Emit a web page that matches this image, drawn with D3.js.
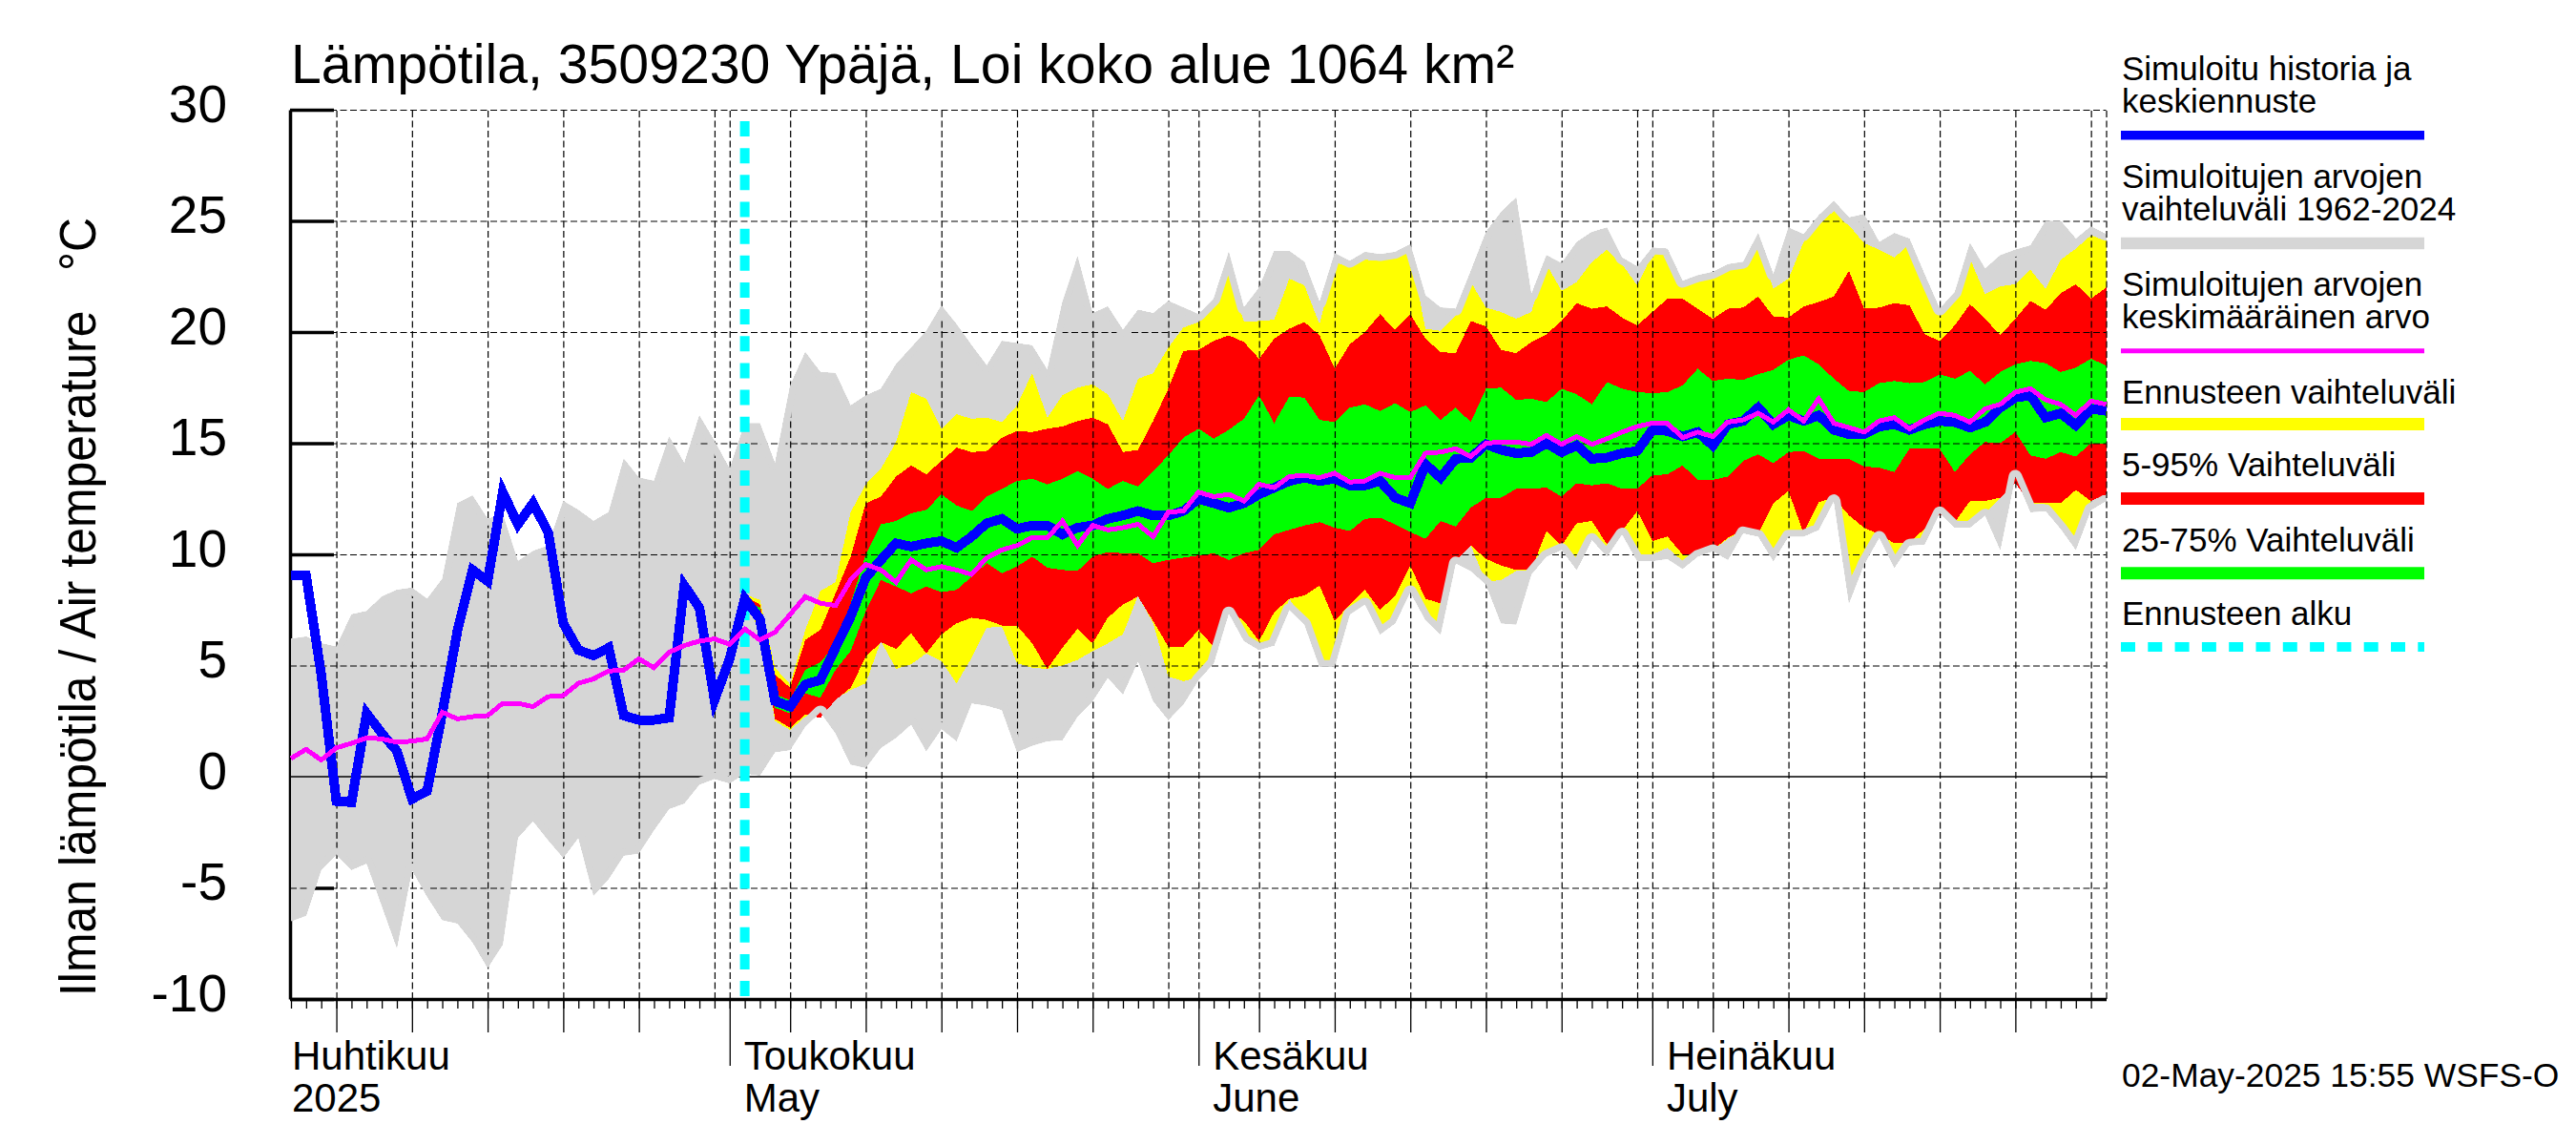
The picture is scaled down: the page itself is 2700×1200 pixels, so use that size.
<!DOCTYPE html>
<html>
<head>
<meta charset="utf-8">
<script src="https://cdn.jsdelivr.net/npm/d3@7"></script>
<style>
  html, body { margin: 0; padding: 0; background: #fff; }
  svg { display: block; }
  text { font-family: "Liberation Sans", Arial, sans-serif; fill: #000; }
</style>
</head>
<body>
<svg id="chart" width="2700" height="1200"></svg>
<script>
// daily values in deg C, first day is 2 April 2025
var greyHi = [6.2,6.3,6.0,5.85,7.3,7.45,8.1,8.4,8.5,8.0,8.9,12.3,12.65,11.6,11.8,9.7,10.15,10.4,12.4,12.0,11.5,11.9,14.3,13.45,13.3,15.3,14.1,16.25,15.1,13.85,15.9,15.9,
  14.1,17.6,19.1,18.2,18.15,16.7,17.15,17.45,18.55,19.3,20.05,21.2,20.35,19.4,18.5,19.6,19.5,19.4,18.3,21.35,23.4,20.85,21.15,20.1,21.0,20.85,21.4,21.1,20.8,
  21.5,23.6,21.1,22.0,23.65,23.65,23.15,21.35,23.55,23.2,23.6,23.5,23.6,23.95,21.65,21.1,21.05,22.75,24.5,25.4,26.05,21.7,23.45,23.1,24.05,24.5,24.7,23.35,22.95,23.8,
  23.75,22.3,22.55,22.7,23.05,23.15,24.45,22.6,24.7,24.4,25.25,25.9,25.15,25.3,24.05,24.45,24.2,22.6,21.05,21.8,24,22.85,23.45,23.7,23.9,25,25,24.2,24.75,24.4];
var greyLo = [-6.5,-6.25,-4.2,-3.5,-4.2,-3.9,-5.8,-7.7,-4.2,-5.4,-6.45,-6.6,-7.45,-8.6,-7.55,-2.75,-2.0,-2.85,-3.65,-2.75,-5.35,-4.6,-3.55,-3.45,-2.4,-1.45,-1.2,-0.35,-0.1,-0.3,0.15,0.05,
  1.1,1.2,2.25,2.9,1.95,0.55,0.4,1.3,1.75,2.35,1.15,2.15,1.6,3.3,3.2,3.0,1.1,1.4,1.6,1.65,2.7,3.4,4.45,3.7,5.2,3.4,2.55,3.25,4.35,
  5.1,7.35,6.1,5.7,5.9,7.5,6.85,4.95,4.95,7.3,7.75,6.4,6.9,8.3,7.05,6.4,9.6,9.25,8.65,6.9,6.85,9.1,9.9,10.2,9.3,10.65,9.9,10.9,9.7,9.7,
  9.8,9.35,9.9,10.15,9.75,10.95,10.8,9.7,10.8,10.8,11.1,12.4,7.8,9.55,10.75,9.4,10.4,10.45,11.85,11.2,11.2,11.75,10.2,13.5,11.9,11.95,11.15,10.2,12.0,12.4];
var blueLine = [9.05,9.05,4.6,-1.1,-1.15,2.85,1.95,1.15,-1.0,-0.65,2.85,6.55,9.3,8.8,12.8,11.35,12.3,11.0,6.9,5.7,5.45,5.8,2.75,2.55,2.55,2.65,8.6,7.6,3.45,5.3,8.0,7.1,
  3.4,3.15,4.15,4.35,5.8,7.2,8.95,9.75,10.5,10.35,10.5,10.6,10.3,10.8,11.4,11.6,11.15,11.3,11.3,10.9,11.2,11.3,11.6,11.75,11.95,11.75,11.75,11.95,12.5,
  12.3,12.1,12.3,12.7,13.0,13.3,13.45,13.3,13.4,13.1,13.1,13.3,12.55,12.3,14.05,13.45,14.3,14.35,14.95,14.7,14.55,14.6,15.0,14.6,14.9,14.3,14.35,14.55,14.65,15.6,
  15.55,15.3,15.5,14.9,15.85,16.0,16.6,15.85,16.25,16.0,16.25,15.6,15.4,15.4,15.75,15.85,15.6,15.85,16.0,15.95,15.7,15.95,16.6,17.05,17.15,16.15,16.35,15.8,16.55,16.45];
var meanLine = [0.82,1.23,0.75,1.3,1.5,1.75,1.7,1.55,1.6,1.7,2.9,2.6,2.7,2.75,3.3,3.3,3.15,3.6,3.65,4.2,4.4,4.75,4.8,5.3,4.9,5.6,5.9,6.1,6.2,5.95,6.65,6.15,
  6.5,7.3,8.1,7.8,7.7,8.85,9.55,9.3,8.75,9.75,9.3,9.45,9.3,9.1,9.85,10.2,10.4,10.75,10.75,11.5,10.4,11.3,11.1,11.2,11.35,10.8,11.9,11.95,12.8,
  12.6,12.7,12.4,13.15,13.0,13.5,13.55,13.45,13.65,13.25,13.3,13.65,13.45,13.45,14.55,14.6,14.75,14.4,15.0,15.05,15.05,14.95,15.35,14.95,15.3,14.95,15.2,15.5,15.75,15.9,
  15.9,15.25,15.5,15.3,15.95,16.05,16.35,15.95,16.5,16.0,17.0,15.9,15.7,15.5,16.0,16.15,15.65,16.05,16.35,16.25,15.95,16.55,16.75,17.3,17.45,16.95,16.75,16.25,16.9,16.75];

// forecast bands start on 2 May
var yellowHi = [8.2,7.95,4.9,4.15,6.6,8.35,8.75,11.9,13.15,13.85,15.05,17.3,17.0,15.65,16.3,16.1,16.15,15.95,16.7,18.15,16.15,17.15,17.5,17.65,17.2,16.0,17.9,18.15,19.3,20.2,20.45,
  21.35,22.7,20.45,20.5,20.55,22.4,22.1,20.35,23.15,22.9,23.25,23.2,23.35,23.6,20.15,20.05,20.75,22.25,21.1,20.9,20.6,20.9,23.05,21.85,22.25,23.15,23.7,23.05,22.1,23.5,
  23.5,22.0,22.25,22.45,22.8,22.9,23.95,21.95,22.4,24.05,24.8,25.45,24.8,24.0,23.7,23.35,23.95,22.4,20.75,21.8,23.3,21.7,22.05,22.15,22.8,21.95,23.25,23.75,24.35,24.1];
var yellowLo = [8.0,6.5,2.5,2.1,2.7,2.7,3.5,3.9,4.2,6.1,4.85,5.05,5.55,5.2,4.2,5.35,6.7,6.75,5.1,4.9,4.85,5.0,5.25,5.65,6.0,6.4,8.15,6.9,4.5,4.3,4.45,
  5.4,7.6,6.4,6.0,6.2,8.0,7.0,5.2,5.2,7.5,8.05,6.7,7.15,8.65,7.3,6.9,9.7,10.4,8.75,8.85,9.25,9.3,10.2,10.4,9.7,10.8,10.3,11.05,10.0,10.0,
  10.3,9.7,10.1,10.2,10.7,11.1,10.9,10.1,11.05,11.05,11.3,12.55,8.8,10.1,10.9,9.85,10.5,10.8,11.9,11.45,11.45,11.85,12.55,13.25,12.3,12.25,11.45,10.75,12.4,12.7];
var redHi = [8.1,7.75,4.6,4.0,6.15,6.6,8.25,9.9,12.3,12.6,13.5,14.0,13.6,14.2,14.8,14.6,14.65,15.25,15.55,15.5,15.65,15.75,16.0,16.15,15.85,14.6,14.7,16.0,17.45,19.15,19.2,
  19.6,19.85,19.55,18.8,19.7,20.15,20.45,19.85,18.35,19.45,20.0,20.8,20.1,20.8,19.7,19.1,19.05,20.5,20.25,19.2,19.05,19.55,19.9,20.5,21.3,21.05,21.15,20.65,20.3,20.9,
  21.5,21.5,21.05,20.6,21.05,21.1,21.6,20.7,20.65,21.15,21.35,21.6,22.75,21.05,21.1,21.3,21.2,19.9,19.6,20.3,21.25,20.6,19.85,20.6,21.4,21.0,21.75,22.15,21.5,22.0];
var redLo = [8.0,6.8,2.6,2.2,2.8,2.65,3.45,4.0,5.4,6.05,5.75,6.45,5.55,6.4,6.9,7.15,7.05,6.8,6.8,6.0,4.85,5.8,6.65,6.0,7.15,7.75,8.1,7.0,5.85,5.85,6.6,
  5.85,7.5,7.0,6.1,7.4,8.0,8.15,8.6,7.0,7.75,8.4,7.5,8.15,9.5,8.0,7.8,9.7,10.4,9.8,9.5,9.3,9.3,11.05,10.4,11.4,11.5,10.45,11.05,11.95,10.6,
  10.8,10.0,10.0,10.2,10.75,11.1,10.95,12.3,12.85,10.95,12.35,12.55,11.75,11.2,10.9,10.5,10.55,11.15,11.8,11.45,12.4,12.4,12.55,13.2,12.3,12.3,12.3,12.9,12.4,12.7];
var greenHi = [8.0,7.6,3.7,3.45,4.8,5.15,5.95,7.8,10.0,11.35,11.5,11.85,12.0,12.7,12.2,11.95,12.6,12.95,13.3,13.4,13.15,13.4,13.75,13.4,12.95,13.3,13.05,13.75,14.45,15.25,15.65,
  15.2,15.6,16.1,17.15,15.9,17.1,17.05,16.05,15.95,16.6,16.75,16.45,16.8,16.4,16.7,16.05,16.6,15.95,17.45,17.5,16.95,17.0,16.85,17.45,17.2,16.75,17.75,17.45,17.3,17.25,
  17.3,17.6,18.35,17.8,17.9,17.85,18.1,18.3,18.75,18.95,18.55,17.9,17.35,17.3,17.7,17.8,17.7,17.75,18.1,17.9,18.25,17.65,18.2,18.55,18.7,18.6,18.2,18.4,18.8,18.5];
var greenLo = [8.0,7.2,3.1,2.85,3.75,3.55,4.8,5.65,7.45,8.85,8.55,8.25,8.55,8.3,8.4,9.0,9.6,9.15,9.45,9.9,9.4,9.3,9.25,9.9,10.1,10.05,10.05,9.6,9.75,9.85,9.95,
  10.05,9.75,10.05,10.2,10.9,11.1,11.3,11.45,11.2,11.05,11.6,11.65,11.35,11.0,10.7,11.5,11.25,12.1,12.55,12.55,12.95,12.95,13.0,12.6,13.2,13.1,13.2,12.95,12.95,13.55,
  13.6,14.0,13.35,13.35,13.5,14.2,14.5,14.1,14.6,14.65,14.3,14.3,14.3,13.95,13.9,13.7,14.75,14.75,14.75,13.7,14.5,15.05,15.0,15.5,14.45,14.3,14.6,14.4,15.0,15.0];

var yTicks = [-10,-5,0,5,10,15,20,25,30];
var monthLabels = [
  ['Huhtikuu', '2025', '2025-04-02'],
  ['Toukokuu', 'May', '2025-05-01'],
  ['Kesäkuu', 'June', '2025-06-01'],
  ['Heinäkuu', 'July', '2025-07-01']
];
var legendText = [
  ['Simuloitu historia ja', 'keskiennuste'],
  ['Simuloitujen arvojen', 'vaihteluväli 1962-2024'],
  ['Simuloitujen arvojen', 'keskimääräinen arvo'],
  ['Ennusteen vaihteluväli'],
  ['5-95% Vaihteluväli'],
  ['25-75% Vaihteluväli'],
  ['Ennusteen alku']
];

var GREY = '#d6d6d6', YELLOW = '#ffff00', RED = '#ff0000', GREEN = '#00ff00',
  BLUE = '#0000ff', MAGENTA = '#ff00ff', CYAN = '#00ffff';

var left = 304, right = 2207.5, top_ = 115, bottom = 1047;
var start = new Date(Date.UTC(2025, 3, 2)), end = new Date(Date.UTC(2025, 6, 31));
var days = d3.utcDay.range(start, d3.utcDay.offset(end, 1));
var fcStart = 30; // index of forecast start day

var x = d3.scaleUtc().domain([start, end]).range([left + 1, right]);
var y = d3.scaleLinear().domain([-10, 30]).range([bottom, top_]);

var svg = d3.select('#chart');

// y ticks go under the grey band
var yAxis = svg.append('g').attr('transform', 'translate(' + left + ',0)')
  .call(d3.axisLeft(y).tickValues(yTicks).tickSize(-46).tickSizeOuter(0).tickPadding(66).tickFormat(String));
yAxis.select('.domain').attr('stroke', '#000').attr('stroke-width', 3.5);
yAxis.selectAll('.tick line').attr('stroke', '#000').attr('stroke-width', 3.5);
yAxis.selectAll('.tick text').attr('dy', 12).attr('font-size', 55)
  .attr('font-family', '"Liberation Sans", Arial, sans-serif').attr('fill', '#000');

function band(lo, hi, offset) {
  return d3.area()
    .x(function(d, i) { return x(days[i + offset]); })
    .y0(function(d, i) { return y(lo[i]); })
    .y1(function(d, i) { return y(hi[i]); })(lo);
}
function line(values) {
  return d3.line()
    .x(function(d, i) { return x(days[i]); })
    .y(function(d) { return y(d); })(values);
}

svg.append('path').attr('d', band(greyLo, greyHi, 0)).attr('fill', GREY).attr('shape-rendering', 'crispEdges');
svg.append('path').attr('d', band(yellowLo, yellowHi, fcStart)).attr('fill', YELLOW).attr('shape-rendering', 'crispEdges');
svg.append('path').attr('d', band(redLo, redHi, fcStart)).attr('fill', RED).attr('shape-rendering', 'crispEdges');
svg.append('path').attr('d', band(greenLo, greenHi, fcStart)).attr('fill', GREEN).attr('shape-rendering', 'crispEdges');

// grid
var gridDays = days.filter(function(d) {
  return d.getUTCDate() % 5 == 0 || d.getUTCDate() == 1 || +d == +end;
});
var gx = svg.append('g').attr('transform', 'translate(0,' + bottom + ')')
  .call(d3.axisBottom(x).tickValues(gridDays).tickSize(top_ - bottom).tickSizeOuter(0).tickFormat(''));
gx.select('.domain').remove();
var gy = svg.append('g').attr('transform', 'translate(' + left + ',0)')
  .call(d3.axisLeft(y).tickValues(yTicks.filter(function(d) { return d != 0 && d != -10; })).tickSize(left - right).tickSizeOuter(0).tickFormat(''));
gy.select('.domain').remove();
[gx, gy].forEach(function(g) {
  g.selectAll('.tick line').attr('stroke', '#000').attr('stroke-width', 1.2).attr('stroke-dasharray', '7,3.5');
});

// zero line
svg.append('line').attr('x1', left).attr('x2', right).attr('y1', y(0)).attr('y2', y(0))
  .attr('stroke', '#000').attr('stroke-width', 1.6);

// grey edge sits over the grid, only inside the band
svg.append('clipPath').attr('id', 'greyClip').append('path').attr('d', band(greyLo, greyHi, 0));
[greyHi, greyLo].forEach(function(v) {
  svg.append('path').attr('d', line(v)).attr('fill', 'none').attr('stroke', GREY)
    .attr('stroke-width', 14).attr('stroke-linejoin', 'round').attr('clip-path', 'url(#greyClip)');
});

// forecast start
svg.append('line').attr('x1', x(days[fcStart])).attr('x2', x(days[fcStart]))
  .attr('y1', 127).attr('y2', bottom)
  .attr('stroke', CYAN).attr('stroke-width', 10).attr('stroke-dasharray', '16,12.16');

svg.append('path').attr('d', line(blueLine)).attr('fill', 'none').attr('stroke', BLUE)
  .attr('stroke-width', 10).attr('stroke-linejoin', 'miter').attr('shape-rendering', 'crispEdges');
svg.append('path').attr('d', line(meanLine)).attr('fill', 'none').attr('stroke', MAGENTA)
  .attr('stroke-width', 5).attr('stroke-linejoin', 'miter').attr('shape-rendering', 'crispEdges');

// x axis, three tick lengths
var minorDays = days.filter(function(d) { return +d != +end; });
var majorDays = days.filter(function(d) { return d.getUTCDate() % 5 == 0 && d.getUTCDate() != 30; });
var monthDays = days.filter(function(d) { return d.getUTCDate() == 1; });
var xMinor = svg.append('g').attr('transform', 'translate(0,' + bottom + ')')
  .call(d3.axisBottom(x).tickValues(minorDays).tickSize(10).tickSizeOuter(0).tickFormat(''));
xMinor.select('.domain').attr('stroke', '#000').attr('stroke-width', 3.5);
var xMajor = svg.append('g').attr('transform', 'translate(0,' + bottom + ')')
  .call(d3.axisBottom(x).tickValues(majorDays).tickSize(35).tickSizeOuter(0).tickFormat(''));
var xMonth = svg.append('g').attr('transform', 'translate(0,' + bottom + ')')
  .call(d3.axisBottom(x).tickValues(monthDays).tickSize(70).tickSizeOuter(0).tickFormat(''));
xMajor.select('.domain').remove();
xMonth.select('.domain').remove();
[xMinor, xMajor, xMonth].forEach(function(a) {
  a.selectAll('.tick line').attr('stroke', '#000').attr('stroke-width', 1.3);
});

// month labels
monthLabels.forEach(function(m) {
  var mx = x(new Date(m[2] + 'T00:00:00Z')) + (m[0] == 'Huhtikuu' ? 1 : 15);
  svg.append('text').attr('x', mx).attr('y', 1120.5).attr('font-size', 42).text(m[0]);
  svg.append('text').attr('x', mx).attr('y', 1164.5).attr('font-size', 42).text(m[1]);
});

// titles
svg.append('text').attr('x', 305).attr('y', 87).attr('font-size', 57.2)
  .text('Lämpötila, 3509230 Ypäjä, Loi koko alue 1064 km²');
svg.append('text').attr('transform', 'translate(100,1044) rotate(-90)').attr('font-size', 53)
  .attr('textLength', 816).attr('lengthAdjust', 'spacingAndGlyphs').style('white-space', 'pre')
  .text('Ilman lämpötila / Air temperature   °C');
svg.append('text').attr('x', 2224).attr('y', 1139).attr('font-size', 35.4)
  .text('02-May-2025 15:55 WSFS-O');

// legend
var legendLines = [[83.5, 118], [196.5, 231], [309.5, 344], [423], [499], [578], [655]];
var legendMarks = [
  [BLUE, 141.7, 9.5], [GREY, 255, 12.5], [MAGENTA, 367.7, 5], [YELLOW, 444.5, 13],
  [RED, 522.5, 13], [GREEN, 600.7, 13], [CYAN, 678, 10]
];
legendText.forEach(function(t, i) {
  t.forEach(function(s, j) {
    svg.append('text').attr('x', 2224).attr('y', legendLines[i][j]).attr('font-size', 35).text(s);
  });
  var m = svg.append('line').attr('x1', 2223).attr('x2', 2541)
    .attr('y1', legendMarks[i][1]).attr('y2', legendMarks[i][1])
    .attr('stroke', legendMarks[i][0]).attr('stroke-width', legendMarks[i][2]);
  if (legendMarks[i][0] == CYAN) m.attr('stroke-dasharray', '15,13.3');
});
</script>
</body>
</html>
